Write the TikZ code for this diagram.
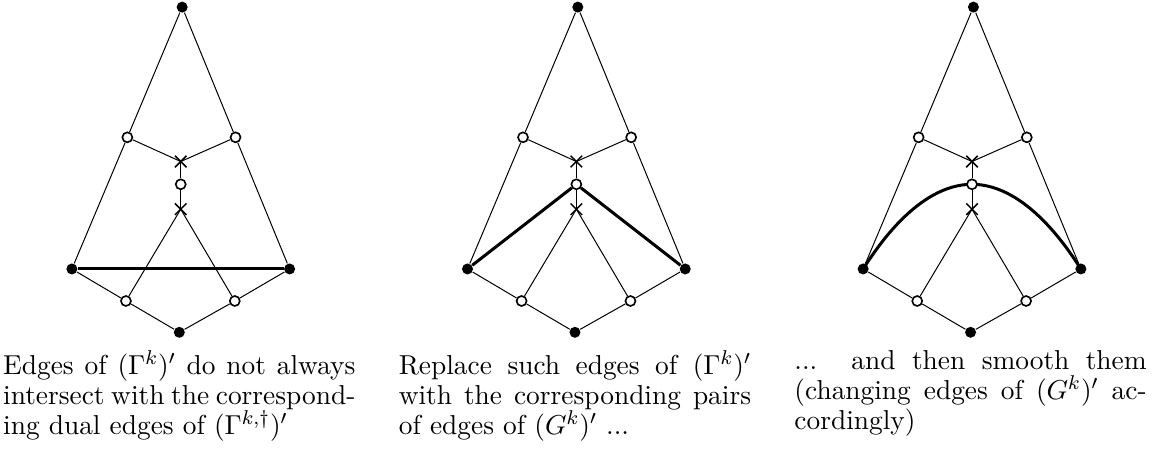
\documentclass[tikz,border=0pt]{standalone}
\usepackage{amsmath,amssymb}
\usepackage{tikz}
\usetikzlibrary{shapes.misc, positioning, backgrounds}
\tikzset{
  blackdot/.style={
    circle, fill=black, inner sep=0pt, minimum size=4.4pt
  },
  whitedot/.style={
    circle, draw=black, fill=white, line width=0.65pt, inner sep=0pt,
    minimum size=4pt
  },
  crossmark/.style={
    cross out, draw=black, line width=0.6pt, inner sep=0pt,
    minimum size=4pt
  },
  graphedge/.style={line width=0.4pt, black},
  boldedge/.style={line width=1.2pt, black},
  captiontext/.style={
    text width=4.95cm, align=justify, inner sep=3.33pt,
    font=\fontsize{10.95}{12}\selectfont
  }
}

\begin{document}
\begin{tikzpicture}
  \useasboundingbox (0,0) rectangle (16.26,6.35);
  \foreach \p/\cx in {1/2.54, 2/8.10, 3/13.66} {
    \begin{scope}[xshift=\cx cm, yshift=2.57cm]
      % vertices
      \node[blackdot] (top\p) at (0.02,3.68) {};
      \node[whitedot] (wl\p) at (-0.75,1.85) {};
      \node[whitedot] (wr\p) at (0.77,1.85) {};
      \node[crossmark] (ux\p) at (0,1.51) {};
      \node[whitedot] (mid\p) at (0,1.19) {};
      \node[crossmark] (lx\p) at (0,0.84) {};
      \node[blackdot] (lb\p) at (-1.53,0) {};
      \node[blackdot] (rb\p) at (1.53,0) {};
      \node[whitedot] (bwl\p) at (-0.77,-0.45) {};
      \node[whitedot] (bwr\p) at (0.76,-0.45) {};
      \node[blackdot] (bot\p) at (-0.02,-0.89) {};
      % edges
      \draw[graphedge] (top\p) -- (wl\p);
      \draw[graphedge] (top\p) -- (wr\p);
      \draw[graphedge] (wl\p) -- (lb\p);
      \draw[graphedge] (wr\p) -- (rb\p);
      \draw[graphedge] (wl\p) -- (ux\p.center);
      \draw[graphedge] (wr\p) -- (ux\p.center);
      \draw[graphedge] (ux\p.center) -- (mid\p);
      \draw[graphedge] (mid\p) -- (lx\p.center);
      \draw[graphedge] (lx\p.center) -- (bwl\p);
      \draw[graphedge] (lx\p.center) -- (bwr\p);
      \draw[graphedge] (lb\p) -- (bwl\p);
      \draw[graphedge] (rb\p) -- (bwr\p);
      \draw[graphedge] (bwl\p) -- (bot\p);
      \draw[graphedge] (bwr\p) -- (bot\p);
    \end{scope}
  }

  % highlighted edges
  \draw[boldedge] (lb1) -- (rb1);
  \draw[boldedge] (lb2) -- (mid2);
  \draw[boldedge] (mid2) -- (rb2);
  \begin{scope}[on background layer]
    \draw[boldedge] (lb3.center) parabola bend (mid3.center) (rb3.center);
  \end{scope}

  % captions
  \node[captiontext, below=0.5mm of bot1] (cap1)
    {Edges of $(\Gamma^k)'$ do not always intersect with the corresponding
     dual edges of $(\Gamma^{k,\dagger})'$};
  \node[captiontext, below=0.5mm of bot2] (cap2)
    {Replace such edges of $(\Gamma^k)'$ with the corresponding pairs of
     edges of $(G^k)'$ ...};
  \node[captiontext, below=0.5mm of bot3] (cap3)
    {... and then smooth them (changing edges of $(G^k)'$ accordingly)};
\end{tikzpicture}
\end{document}
